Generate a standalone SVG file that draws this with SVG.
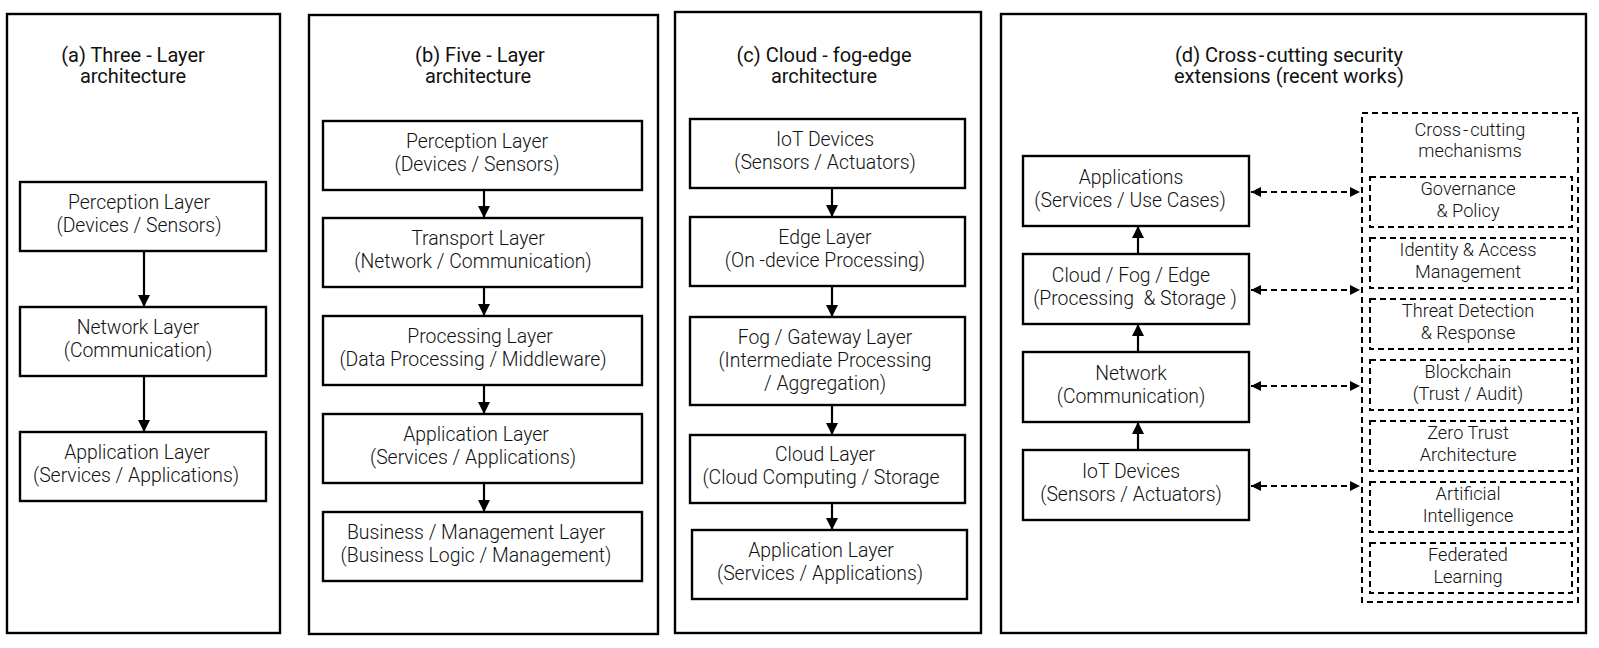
<svg xmlns="http://www.w3.org/2000/svg" width="1599" height="648" viewBox="0 0 1599 648">
<defs>
<style>
.frame{fill:#fff;stroke:#000;stroke-width:2.4}
.box{fill:#fff;stroke:#000;stroke-width:2.4}
.dbox{fill:none;stroke:#000;stroke-width:2;stroke-dasharray:6 4}
.title{font-family:Roboto,"Liberation Sans",sans-serif;font-weight:400;font-size:20px;fill:#111;text-anchor:middle}
.t{font-family:Roboto,"Liberation Sans",sans-serif;font-weight:300;font-size:19.4px;fill:#111;text-anchor:middle;white-space:pre}
.ts{font-family:Roboto,"Liberation Sans",sans-serif;font-weight:300;font-size:18.2px;fill:#111;text-anchor:middle;white-space:pre}
.arr{stroke:#000;stroke-width:2.2;fill:none;marker-end:url(#ah)}
.darr{stroke:#000;stroke-width:2;fill:none;stroke-dasharray:6 4;marker-start:url(#dh);marker-end:url(#dh)}
</style>
<marker id="ah" viewBox="0 0 12 12" refX="12" refY="6" markerWidth="12" markerHeight="12" markerUnits="userSpaceOnUse" orient="auto-start-reverse"><path d="M0,0 L12,6 L0,12 z" fill="#000"/></marker>
<marker id="dh" viewBox="0 0 10 10" refX="10" refY="5" markerWidth="10" markerHeight="10" markerUnits="userSpaceOnUse" orient="auto-start-reverse"><path d="M0,0 L10,5 L0,10 z" fill="#000"/></marker>
</defs>
<rect width="1599" height="648" fill="#fff"/>

<g id="panel-a">
<rect class="frame" x="7" y="14" width="273" height="619"/>
<text class="title" x="133" y="62">(a) Three - Layer</text>
<text class="title" x="133" y="83">architecture</text>
</g>
<g id="a-perception"><rect class="box" x="20" y="182" width="246" height="69"/><text class="t" x="139" y="209">Perception Layer</text><text class="t" x="139" y="232">(Devices / Sensors)</text></g>
<g id="a-network"><rect class="box" x="20" y="307" width="246" height="69"/><text class="t" x="138" y="334">Network Layer</text><text class="t" x="138" y="357">(Communication)</text></g>
<g id="a-application"><rect class="box" x="20" y="432" width="246" height="69"/><text class="t" x="137" y="459">Application Layer</text><text class="t" x="136" y="482">(Services / Applications)</text></g>

<g id="panel-b">
<rect class="frame" x="309" y="15" width="349" height="619"/>
<text class="title" x="480" y="62">(b) Five - Layer</text>
<text class="title" x="478" y="83">architecture</text>
</g>
<g id="b-perception"><rect class="box" x="323" y="121" width="319" height="69"/><text class="t" x="477" y="148">Perception Layer</text><text class="t" x="477" y="171">(Devices / Sensors)</text></g>
<g id="b-transport"><rect class="box" x="323" y="218" width="319" height="69"/><text class="t" x="478" y="245">Transport Layer</text><text class="t" x="473" y="268">(Network / Communication)</text></g>
<g id="b-processing"><rect class="box" x="323" y="316" width="319" height="69"/><text class="t" x="480" y="343">Processing Layer</text><text class="t" x="473" y="366">(Data Processing / Middleware)</text></g>
<g id="b-application"><rect class="box" x="323" y="414" width="319" height="69"/><text class="t" x="476" y="441">Application Layer</text><text class="t" x="473" y="464">(Services / Applications)</text></g>
<g id="b-business"><rect class="box" x="323" y="512" width="319" height="69"/><text class="t" x="476" y="539">Business / Management Layer</text><text class="t" x="476" y="562">(Business Logic / Management)</text></g>

<g id="panel-c">
<rect class="frame" x="675" y="12" width="306" height="621"/>
<text class="title" x="824" y="62">(c) Cloud - fog-edge</text>
<text class="title" x="824" y="83">architecture</text>
</g>
<g id="c-iot"><rect class="box" x="690" y="119" width="275" height="69"/><text class="t" x="825" y="146">IoT Devices</text><text class="t" x="825" y="169">(Sensors / Actuators)</text></g>
<g id="c-edge"><rect class="box" x="690" y="217" width="275" height="69"/><text class="t" x="825" y="244">Edge Layer</text><text class="t" x="825" y="267">(On -device Processing)</text></g>
<g id="c-fog"><rect class="box" x="690" y="317" width="275" height="88"/><text class="t" x="825" y="344">Fog / Gateway Layer</text><text class="t" x="825" y="367">(Intermediate Processing</text><text class="t" x="825" y="390">/ Aggregation)</text></g>
<g id="c-cloud"><rect class="box" x="690" y="435" width="275" height="68"/><text class="t" x="825" y="461">Cloud Layer</text><text class="t" x="821" y="484">(Cloud Computing / Storage</text></g>
<g id="c-application"><rect class="box" x="692" y="530" width="275" height="69"/><text class="t" x="821" y="557">Application Layer</text><text class="t" x="820" y="580">(Services / Applications)</text></g>

<g id="panel-d">
<rect class="frame" x="1001" y="14" width="585" height="619"/>
<text class="title" x="1289" y="62">(d) Cross<tspan dx="2">-</tspan><tspan dx="2">cutting security</tspan></text>
<text class="title" x="1289" y="83">extensions (recent works)</text>
</g>
<g id="d-applications"><rect class="box" x="1023" y="156" width="226" height="70"/><text class="t" x="1131" y="184">Applications</text><text class="t" x="1130" y="207">(Services / Use Cases)</text></g>
<g id="d-cloud"><rect class="box" x="1023" y="254" width="226" height="70"/><text class="t" x="1131" y="282">Cloud / Fog / Edge</text><text class="t" x="1135" y="305">(Processing  &amp; Storage )</text></g>
<g id="d-network"><rect class="box" x="1023" y="352" width="226" height="70"/><text class="t" x="1131" y="380">Network</text><text class="t" x="1131" y="403">(Communication)</text></g>
<g id="d-iot"><rect class="box" x="1023" y="450" width="226" height="70"/><text class="t" x="1131" y="478">IoT Devices</text><text class="t" x="1131" y="501">(Sensors / Actuators)</text></g>

<g id="d-mechanisms">
<rect class="dbox" x="1362" y="113" width="216" height="489"/>
<text class="ts" x="1470" y="136">Cross<tspan dx="2">-</tspan><tspan dx="2">cutting</tspan></text>
<text class="ts" x="1470" y="157">mechanisms</text>
</g>
<g id="m-governance"><rect class="dbox" x="1370" y="177" width="202" height="50"/><text class="ts" x="1468" y="195">Governance</text><text class="ts" x="1468" y="217">&amp; Policy</text></g>
<g id="m-identity"><rect class="dbox" x="1370" y="238" width="202" height="50"/><text class="ts" x="1468" y="256">Identity &amp; Access</text><text class="ts" x="1468" y="278">Management</text></g>
<g id="m-threat"><rect class="dbox" x="1370" y="299" width="202" height="50"/><text class="ts" x="1468" y="317">Threat Detection</text><text class="ts" x="1468" y="339">&amp; Response</text></g>
<g id="m-blockchain"><rect class="dbox" x="1370" y="360" width="202" height="50"/><text class="ts" x="1468" y="378">Blockchain</text><text class="ts" x="1468" y="400">(Trust / Audit)</text></g>
<g id="m-zerotrust"><rect class="dbox" x="1370" y="421" width="202" height="50"/><text class="ts" x="1468" y="439">Zero Trust</text><text class="ts" x="1468" y="461">Architecture</text></g>
<g id="m-ai"><rect class="dbox" x="1370" y="482" width="202" height="50"/><text class="ts" x="1468" y="500">Artificial</text><text class="ts" x="1468" y="522">Intelligence</text></g>
<g id="m-federated"><rect class="dbox" x="1370" y="543" width="202" height="50"/><text class="ts" x="1468" y="561">Federated</text><text class="ts" x="1468" y="583">Learning</text></g>

<g id="connectors">
<line class="arr" x1="144" y1="251" x2="144" y2="307"/>
<line class="arr" x1="144" y1="376" x2="144" y2="432"/>
<line class="arr" x1="484" y1="190" x2="484" y2="218"/>
<line class="arr" x1="484" y1="287" x2="484" y2="316"/>
<line class="arr" x1="484" y1="385" x2="484" y2="414"/>
<line class="arr" x1="484" y1="483" x2="484" y2="512"/>
<line class="arr" x1="832" y1="188" x2="832" y2="217"/>
<line class="arr" x1="832" y1="286" x2="832" y2="317"/>
<line class="arr" x1="832" y1="405" x2="832" y2="435"/>
<line class="arr" x1="832" y1="503" x2="832" y2="530"/>
<line class="arr" x1="1138" y1="254" x2="1138" y2="226"/>
<line class="arr" x1="1138" y1="352" x2="1138" y2="324"/>
<line class="arr" x1="1138" y1="450" x2="1138" y2="422"/>
<line class="darr" x1="1251" y1="192" x2="1360" y2="192"/>
<line class="darr" x1="1251" y1="290" x2="1360" y2="290"/>
<line class="darr" x1="1251" y1="386" x2="1360" y2="386"/>
<line class="darr" x1="1251" y1="486" x2="1360" y2="486"/>
</g>
</svg>
